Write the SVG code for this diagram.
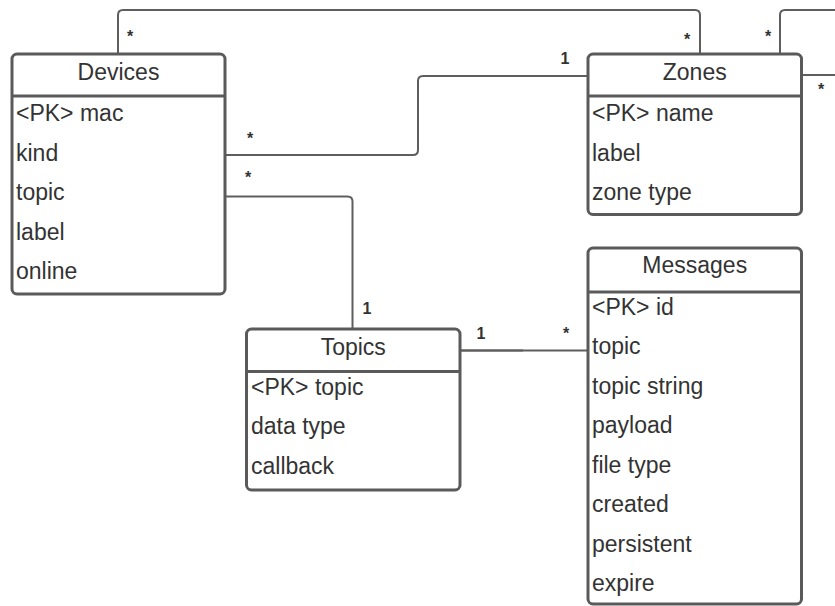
<svg xmlns="http://www.w3.org/2000/svg" width="835" height="606" viewBox="0 0 835 606">
<style>
.box{fill:#fff;stroke:#5a5a5a;stroke-width:3}
.div{stroke:#5a5a5a;stroke-width:3}
.t{font-family:"Liberation Sans",Arial,sans-serif;font-size:23px;fill:#333}
.h{text-anchor:middle}
.c{fill:none;stroke:#5e5e5e;stroke-width:2}
.m{font-family:"Liberation Sans",Arial,sans-serif;font-size:16px;font-weight:bold;fill:#333;text-anchor:middle}
</style>
<rect width="835" height="606" fill="#fff"/>
<g id="connectors">
<path class="c" d="M118 54 V15 Q118 10 123 10 H695 Q700 10 700 15 V54"/>
<path class="c" d="M225 155 H413 Q418 155 418 150 V81 Q418 76 423 76 H588"/>
<path class="c" d="M225 196.5 H347.5 Q352.5 196.5 352.5 201.5 V329"/>
<path class="c" d="M460 350.5 H523" style="stroke-width:2.5"/>
<path class="c" d="M523 350.5 H588"/>
<path class="c" d="M780 54 V15 Q780 10 785 10 H835"/>
<path class="c" d="M801.5 75 H835"/>
<text class="m" x="130" y="42">*</text>
<text class="m" x="687" y="45">*</text>
<text class="m" x="565" y="64">1</text>
<text class="m" x="768" y="42">*</text>
<text class="m" x="821" y="95">*</text>
<text class="m" x="250" y="144">*</text>
<text class="m" x="248" y="183">*</text>
<text class="m" x="367" y="314">1</text>
<text class="m" x="481" y="339">1</text>
<text class="m" x="566" y="339">*</text>
</g>
<g id="devices">
<rect class="box" x="12" y="54" width="213" height="240" rx="5"/>
<line class="div" x1="12" y1="96" x2="225" y2="96"/>
<text class="t h" x="118.5" y="80">Devices</text>
<text class="t" x="16" y="121">&lt;PK&gt; mac</text>
<text class="t" x="16" y="161">kind</text>
<text class="t" x="16" y="200">topic</text>
<text class="t" x="16" y="240">label</text>
<text class="t" x="16" y="279">online</text>
</g>
<g id="zones">
<rect class="box" x="588" y="54" width="213.5" height="160.5" rx="5"/>
<line class="div" x1="588" y1="96" x2="801.5" y2="96"/>
<text class="t h" x="694.75" y="80">Zones</text>
<text class="t" x="592" y="121">&lt;PK&gt; name</text>
<text class="t" x="592" y="161">label</text>
<text class="t" x="592" y="200">zone type</text>
</g>
<g id="messages">
<rect class="box" x="588" y="248" width="213.5" height="356" rx="5"/>
<line class="div" x1="588" y1="292" x2="801.5" y2="292"/>
<text class="t h" x="694.75" y="273">Messages</text>
<text class="t" x="592" y="315">&lt;PK&gt; id</text>
<text class="t" x="592" y="354">topic</text>
<text class="t" x="592" y="394">topic string</text>
<text class="t" x="592" y="433">payload</text>
<text class="t" x="592" y="473">file type</text>
<text class="t" x="592" y="512">created</text>
<text class="t" x="592" y="552">persistent</text>
<text class="t" x="592" y="591">expire</text>
</g>
<g id="topics">
<rect class="box" x="246.5" y="329" width="213.5" height="161" rx="5"/>
<line class="div" x1="246.5" y1="371.5" x2="460" y2="371.5"/>
<text class="t h" x="353.25" y="355">Topics</text>
<text class="t" x="251" y="395">&lt;PK&gt; topic</text>
<text class="t" x="251" y="434">data type</text>
<text class="t" x="251" y="474">callback</text>
</g>
</svg>
